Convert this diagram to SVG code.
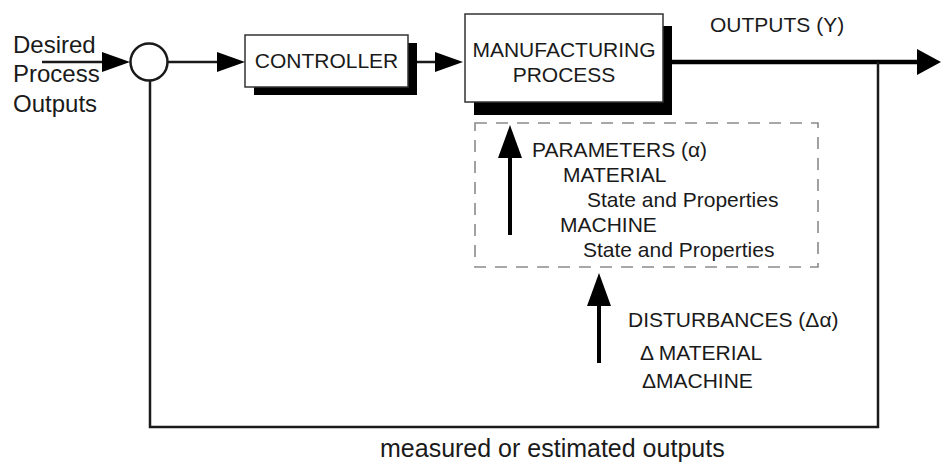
<svg xmlns="http://www.w3.org/2000/svg" width="941" height="466" viewBox="0 0 941 466">
<style>
  text { font-family: "Liberation Sans", Arial, Helvetica, sans-serif; fill: #1a1a1a; }
  .t21 { font-size: 21px; }
  .t24 { font-size: 24px; }
  .t25 { font-size: 25px; }
  .box { fill: #ffffff; stroke: #333333; stroke-width: 1.5; }
  .shadow { fill: #000000; }
  .thin { fill: none; stroke: #1a1a1a; stroke-width: 2.5; }
  .thick { fill: none; stroke: #000000; stroke-width: 4.5; }
  .vert { fill: none; stroke: #000000; stroke-width: 4; }
  .dash { fill: none; stroke: #8a8a8a; stroke-width: 1.6; stroke-dasharray: 12 9; }
</style>
<defs>
  <marker id="arrowH" viewBox="0 0 28 20" refX="22" refY="10" markerWidth="28" markerHeight="20" markerUnits="userSpaceOnUse" orient="auto">
    <path d="M0,0 L28,10 L0,20 Z" fill="#000"/>
  </marker>
  <marker id="arrowOut" viewBox="0 0 24 26" refX="16" refY="13" markerWidth="24" markerHeight="26" markerUnits="userSpaceOnUse" orient="auto">
    <path d="M0,0 L24,13 L0,26 Z" fill="#000"/>
  </marker>
  <marker id="arrowV" viewBox="0 0 33 24" refX="25" refY="12" markerWidth="33" markerHeight="24" markerUnits="userSpaceOnUse" orient="auto">
    <path d="M0,0 L33,12 L0,24 Z" fill="#000"/>
  </marker>
</defs>

<g id="input-label">
  <text class="t24" x="13" y="53">Desired</text>
  <text class="t24" x="13" y="82">Process</text>
  <text class="t24" x="13" y="112">Outputs</text>
</g>

<g id="summing-junction">
  <circle cx="149" cy="62" r="18.5" fill="#fff" stroke="#1a1a1a" stroke-width="2.5"/>
</g>

<g id="controller">
  <rect class="shadow" x="254" y="43" width="163" height="52"/>
  <rect class="box" x="245" y="35" width="163" height="52"/>
  <text class="t21" x="326.5" y="68" text-anchor="middle">CONTROLLER</text>
</g>

<g id="manufacturing-process">
  <rect class="shadow" x="474" y="26" width="198" height="89"/>
  <rect class="box" x="465" y="14" width="198" height="88"/>
  <text class="t21" x="564" y="57" text-anchor="middle">MANUFACTURING</text>
  <text class="t21" x="564" y="82" text-anchor="middle">PROCESS</text>
</g>

<g id="parameters">
  <rect class="dash" x="475" y="123" width="343" height="144"/>
  <text class="t21" x="532" y="157">PARAMETERS (α)</text>
  <text class="t21" x="563" y="182">MATERIAL</text>
  <text class="t21" x="587" y="207">State and Properties</text>
  <text class="t21" x="560" y="232">MACHINE</text>
  <text class="t21" x="583" y="257">State and Properties</text>
</g>

<g id="disturbances">
  <text class="t21" x="628" y="327">DISTURBANCES (Δα)</text>
  <text class="t21" x="640" y="360">Δ MATERIAL</text>
  <text class="t21" x="642" y="388">ΔMACHINE</text>
</g>

<g id="outputs-label">
  <text class="t21" x="710" y="32">OUTPUTS (Y)</text>
</g>

<g id="feedback-label">
  <text class="t25" x="380" y="457">measured or estimated outputs</text>
</g>

<g id="connectors">
  <line class="thin" x1="42" y1="62" x2="124" y2="62" marker-end="url(#arrowH)"/>
  <line class="thin" x1="167.5" y1="62" x2="239" y2="62" marker-end="url(#arrowH)"/>
  <line class="thin" x1="417" y1="62" x2="457" y2="62" marker-end="url(#arrowH)"/>
  <line class="thick" x1="672" y1="62" x2="933" y2="62" marker-end="url(#arrowOut)"/>
  <polyline class="thin" points="878,62 878,427 150,427 150,80.5"/>
  <line class="vert" x1="510" y1="235" x2="510" y2="133" marker-end="url(#arrowV)"/>
  <line class="vert" x1="599" y1="363" x2="599" y2="281" marker-end="url(#arrowV)"/>
</g>
</svg>
